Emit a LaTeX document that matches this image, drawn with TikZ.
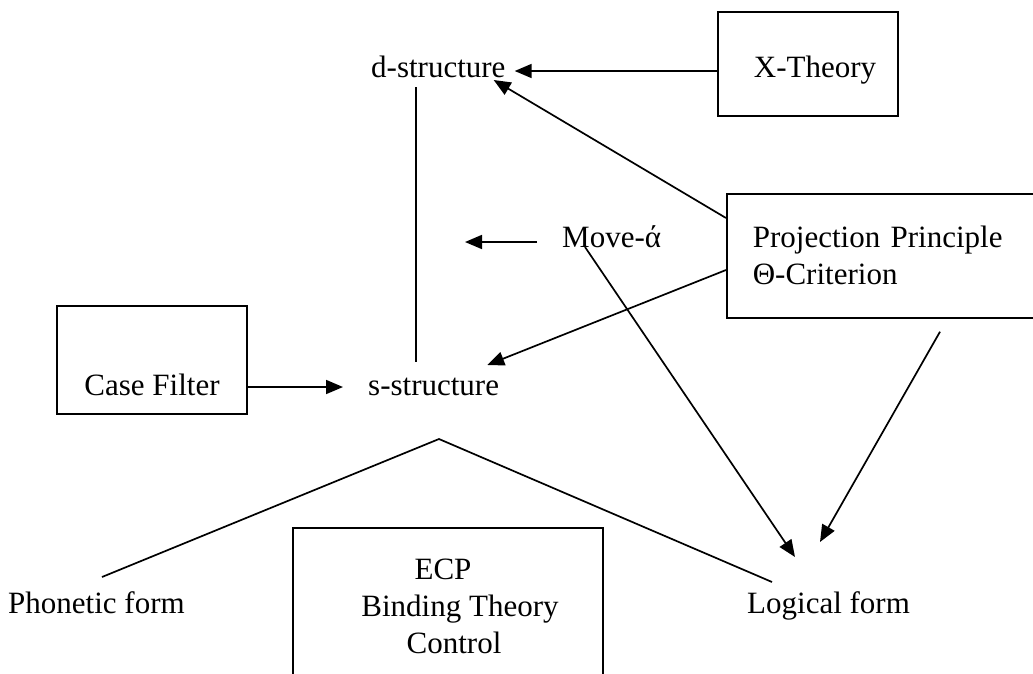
\documentclass[tikz,border=0pt]{standalone}
\usepackage{fontspec}
\setmainfont{Liberation Serif}
\usetikzlibrary{arrows.meta,calc}
\begin{document}
\begin{tikzpicture}[x=1pt,y=-1pt,
  every node/.style={font=\fontsize{31}{37}\selectfont, inner sep=0pt},
  lbl/.style={anchor=base west},
  frame/.style={draw, line width=1.7pt},
  link/.style={line width=1.7pt},
  arr/.style={link, -{Triangle[length=17pt,width=14pt]}}]
\useasboundingbox (0,0) rectangle (1033,673);
\fill[white] (0,0) rectangle (1033,673);
\clip (0,0) rectangle (1033,673);

% levels of representation
\node[lbl] (ds) at (371,77) {d-structure};
\node[lbl] (ss) at (368,395) {s-structure};
\node[lbl] (mv) at (562,247) {Move-ά};
\node[lbl] (pf) at (8,613) {Phonetic form};
\node[lbl] (lf) at (747,613) {Logical form};

% modules
\node[frame, minimum width=180pt, minimum height=104pt,
      text height=33pt, text depth=7pt] (xt) at (808,64)
      {\hspace*{14pt}X-Theory};
\node[frame, anchor=north west, minimum height=124pt, align=left,
      text width=300pt, inner xsep=26pt] (pp) at (726,193)
      {Projection Principle\\Θ-Criterion};
\node[frame, minimum width=190pt, minimum height=108pt,
      text height=77pt, text depth=7pt] (cf) at (152,360) {Case Filter};
\node[frame, anchor=north, minimum width=310pt, align=center,
      inner ysep=31pt] (ecp) at (448,527)
      {ECP\hspace*{10pt}\\\hspace*{24pt}Binding Theory\\\hspace*{12pt}Control};

% free end of the Move-alpha arrow
\coordinate (mvend) at (465,242);

% connectors
\draw[arr] ($(xt.west)+(0,7)$) -- ($(ds.base east)+(9,-6)$);
\draw[arr] ($(pp.north west)+(0,25)$) -- ($(ds.base east)+(-12,3)$);
\draw[link] ($(ds.base west)+(45,10)$) -- ($(ss.base west)+(48,-33)$);
\draw[arr] ($(mv.base west)+(-25,-5)$) -- (mvend);
\draw[arr] ($(pp.north west)+(0,77)$) -- ($(ss.base east)+(-12,-30)$);
\draw[arr] ($(cf.east)+(0,27)$) -- ($(ss.base west)+(-25,-8)$);
\draw[arr] ($(mv.base west)+(23,0)$) -- ($(lf.base west)+(48,-56)$);
\draw[arr] ($(pp.south west)+(214,13)$) -- ($(lf.base west)+(73,-71)$);

% branching from s-structure to the two interface levels
\draw[link] ($(pf.base west)+(94,-36)$) -- ($(ss.base west)+(71,44)$)
            -- ($(lf.base west)+(25,-31)$);
\end{tikzpicture}
\end{document}
